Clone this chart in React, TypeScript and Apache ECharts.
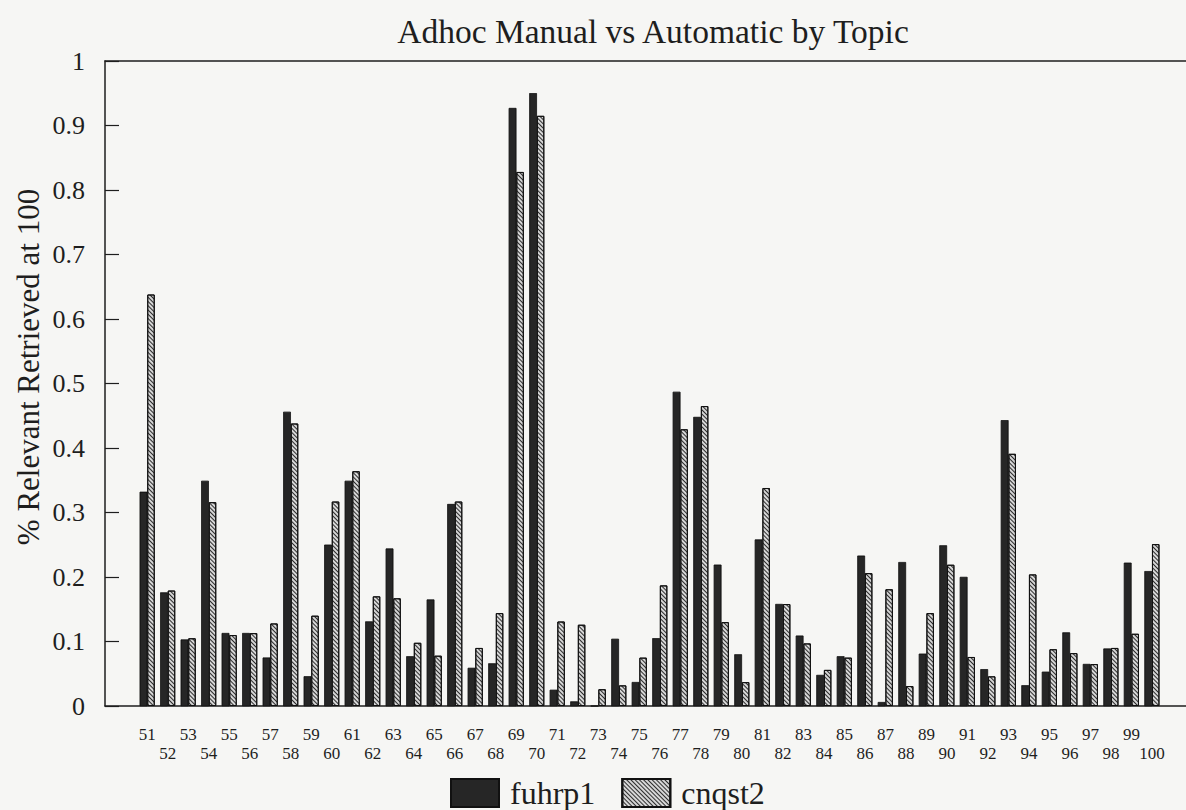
import React, { useEffect, useRef } from "react";
import * as echarts from "echarts";

const topics = [
  51, 52, 53, 54, 55, 56, 57, 58, 59, 60,
  61, 62, 63, 64, 65, 66, 67, 68, 69, 70,
  71, 72, 73, 74, 75, 76, 77, 78, 79, 80,
  81, 82, 83, 84, 85, 86, 87, 88, 89, 90,
  91, 92, 93, 94, 95, 96, 97, 98, 99, 100,
];

const fuhrp1 = [
  0.332, 0.176, 0.103, 0.349, 0.113, 0.113, 0.075, 0.456, 0.046, 0.25,
  0.349, 0.131, 0.244, 0.077, 0.165, 0.313, 0.059, 0.066, 0.927, 0.95,
  0.025, 0.007, 0, 0.104, 0.037, 0.105, 0.487, 0.448, 0.219, 0.08,
  0.258, 0.158, 0.109, 0.048, 0.077, 0.233, 0.006, 0.223, 0.081, 0.249,
  0.2, 0.057, 0.443, 0.032, 0.053, 0.114, 0.065, 0.089, 0.222, 0.209,
];

const cnqst2 = [
  0.638, 0.179, 0.105, 0.316, 0.11, 0.113, 0.128, 0.438, 0.14, 0.317,
  0.364, 0.17, 0.167, 0.098, 0.078, 0.317, 0.09, 0.144, 0.828, 0.915,
  0.131, 0.126, 0.026, 0.032, 0.075, 0.187, 0.429, 0.465, 0.13, 0.037,
  0.338, 0.158, 0.097, 0.056, 0.075, 0.206, 0.181, 0.031, 0.144, 0.219,
  0.076, 0.046, 0.391, 0.204, 0.088, 0.082, 0.065, 0.09, 0.112, 0.251,
];

const yTicks = [0, 0.1, 0.2, 0.3, 0.4, 0.5, 0.6, 0.7, 0.8, 0.9, 1];

const oddTopics = topics.filter((t) => t % 2 === 1);
const evenTopics = topics.filter((t) => t % 2 === 0);

const SERIF = "Liberation Serif";
const INK = "#1e1e1e";
const X_MIN = 48.94;
const X_MAX = 101.66;

export default function App() {
  const ref = useRef<HTMLDivElement>(null);

  useEffect(() => {
    if (!ref.current) return;
    const chart = echarts.init(ref.current, undefined, { renderer: "svg" });
    const labelAxis = (values: number[], margin: number) => ({
      type: "value",
      position: "bottom",
      offset: 0,
      min: X_MIN,
      max: X_MAX,
      splitLine: { show: false },
      axisLine: { show: false },
      axisTick: { show: false },
      axisLabel: {
        customValues: values,
        showMinLabel: true,
        showMaxLabel: true,
        hideOverlap: false,
        margin,
        fontFamily: SERIF,
        fontSize: 17,
        color: INK,
        formatter: (v: number) => String(v),
      },
    });
    chart.setOption({
      animation: false,
      backgroundColor: "#f6f6f4",
      aria: { enabled: false, decal: { show: true } },
      title: {
        text: "Adhoc Manual vs Automatic by Topic",
        left: 648,
        textAlign: "center",
        top: 9,
        textStyle: { fontFamily: SERIF, fontSize: 33.5, fontWeight: "normal", color: INK },
      },
      legend: {
        left: 445,
        top: 772,
        itemWidth: 48,
        itemHeight: 28,
        itemGap: 26,
        icon: "rect",
        textStyle: { fontFamily: SERIF, fontSize: 32, color: INK, padding: [0, 0, 0, 6] },
        data: ["fuhrp1", "cnqst2"],
      },
      grid: { left: 105, top: 61, right: 0, bottom: 104, containLabel: false },
      xAxis: [
        {
          type: "value",
          position: "bottom",
          min: X_MIN,
          max: X_MAX,
          splitLine: { show: false },
          axisLine: { show: true, lineStyle: { color: INK, width: 1.5 } },
          axisTick: { show: false },
          axisLabel: { show: false },
        },
        labelAxis(oddTopics, 20),
        labelAxis(evenTopics, 39),
        {
          type: "value",
          position: "top",
          min: X_MIN,
          max: X_MAX,
          splitLine: { show: false },
          axisLine: { show: true, lineStyle: { color: INK, width: 1.5 } },
          axisTick: { show: false },
          axisLabel: { show: false },
        },
      ],
      yAxis: {
        type: "value",
        min: 0,
        max: 1,
        interval: 0.1,
        splitLine: { show: false },
        axisLine: { show: true, lineStyle: { color: INK, width: 1.5 } },
        axisTick: { show: true, inside: true, length: 14, lineStyle: { color: INK, width: 1.2 } },
        axisLabel: {
          margin: 20,
          showMinLabel: true,
          showMaxLabel: true,
          fontFamily: SERIF,
          fontSize: 26,
          color: INK,
          formatter: (v: number) => {
            const t = yTicks.find((x) => Math.abs(x - v) < 1e-6);
            return t === undefined ? "" : String(Math.round(t * 10) / 10);
          },
        },
      },
      graphic: [
        {
          type: "text",
          x: 28,
          y: 367,
          rotation: Math.PI / 2,
          style: {
            text: "% Relevant Retrieved at 100",
            fontFamily: SERIF,
            fontSize: 31,
            fill: INK,
            align: "center",
            verticalAlign: "middle",
          },
        },
      ],
      series: [
        {
          name: "fuhrp1",
          type: "bar",
          xAxisIndex: 0,
          barWidth: 7.5,
          barGap: "0%",
          data: topics.map((t, i) => [t, fuhrp1[i]]),
          itemStyle: {
            color: "#262626",
            borderColor: "#111",
            borderWidth: 0.5,
            decal: { symbol: "rect", color: "rgba(0,0,0,0)", dashArrayX: [1, 0], dashArrayY: [1, 0] },
          },
        },
        {
          name: "cnqst2",
          type: "bar",
          xAxisIndex: 0,
          barWidth: 7.5,
          barGap: "0%",
          data: topics.map((t, i) => [t, cnqst2[i]]),
          itemStyle: {
            color: "#d6d6d6",
            borderColor: "#111",
            borderWidth: 1,
            decal: {
              symbol: "rect",
              symbolSize: 1,
              color: "rgba(25,25,25,0.9)",
              dashArrayX: [1, 0],
              dashArrayY: [1, 1.2],
              rotation: Math.PI / 4,
            },
          },
        },
      ],
    });
    return () => chart.dispose();
  }, []);

  return (
    <div
      ref={ref}
      style={{ position: "fixed", left: 0, top: 0, width: 1186, height: 810 }}
    />
  );
}
